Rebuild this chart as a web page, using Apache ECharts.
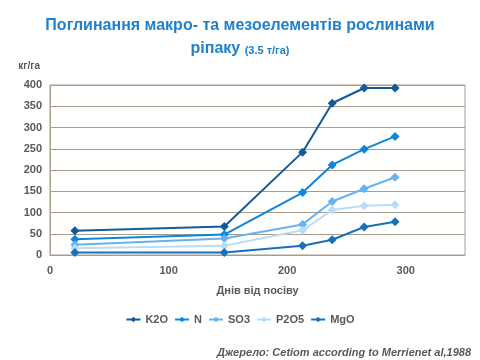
<!DOCTYPE html>
<html><head><meta charset="utf-8">
<script src="https://cdn.jsdelivr.net/npm/echarts@6/dist/echarts.min.js"></script>
<style>html,body{margin:0;padding:0;background:#fff}#c{width:480px;height:360px}</style>
</head><body><div id="c"></div>
<script>
const days = [21, 147, 213, 238, 265, 291];
const k2o = [57, 67, 242, 357, 393, 393];
const n   = [37, 48, 147, 212, 249, 279];
const so3 = [24, 39, 72, 126, 156, 183];
const p2o5 = [16, 22, 58, 106, 116, 118];
const mgo = [6, 6, 22, 36, 66, 78];
const seriesNames = ['K2O', 'N', 'SO3', 'P2O5', 'MgO'];
const seriesData = [k2o, n, so3, p2o5, mgo];
const xTicks = [0, 100, 200, 300];
const colors = ['#145A96', '#0C85DC', '#66B3F0', '#BADCF7', '#1670BC'];
const font = 'Liberation Sans, Arial, sans-serif';
const chart = echarts.init(document.getElementById('c'));
chart.setOption({
  animation: false,
  textStyle: {fontFamily: font},
  title: [{
    text: 'Поглинання макро- та мезоелементів рослинами',
    left: 'center', top: 13,
    textStyle: {fontFamily: font, fontSize: 16, fontWeight: 'bold', color: '#1F80CB'}
  }, {
    text: '{a|ріпаку} {b|(3.5 т/га)}',
    left: 'center', top: 36,
    textStyle: {fontFamily: font, fontSize: 16, fontWeight: 'bold', color: '#1F80CB',
      rich: {a: {fontFamily: font, fontSize: 16, fontWeight: 'bold', color: '#1F80CB'},
             b: {fontFamily: font, fontSize: 11, fontWeight: 'bold', color: '#1F80CB', padding: [3, 0, 0, 0]}}}
  }, {
    text: 'Джерело: Cetiom according to Merrienet al,1988',
    right: 4, top: 342,
    textStyle: {fontFamily: font, fontSize: 11, fontWeight: 'bold', fontStyle: 'italic', color: '#595959'}
  }],
  legend: {
    data: seriesNames, bottom: 30, itemWidth: 14, itemHeight: 7, itemGap: 6,
    textStyle: {fontFamily: font, fontSize: 11, fontWeight: 'bold', color: '#595959'}
  },
  grid: {left: 50, right: 15, top: 85, bottom: 105, show: true, borderColor: '#A89C8F', borderWidth: 1},
  xAxis: {
    type: 'value', min: 0, max: 350, interval: 100,
    name: 'Днів від посіву', nameLocation: 'middle', nameGap: 30,
    nameTextStyle: {fontFamily: font, fontSize: 11, fontWeight: 'bold', color: '#595959'},
    axisLine: {lineStyle: {color: '#A89C8F'}}, axisTick: {show: false},
    splitLine: {show: false},
    axisLabel: {fontFamily: font, fontSize: 11, fontWeight: 'bold', color: '#595959', margin: 10,
      formatter: v => xTicks.includes(v) ? String(v) : ''}
  },
  yAxis: {
    type: 'value', min: 0, max: 400, interval: 50,
    name: 'кг/га', nameLocation: 'end', nameGap: 14,
    nameTextStyle: {fontFamily: font, fontSize: 10, fontWeight: 'bold', color: '#595959', align: 'right', padding: [0, 10, 0, 0]},
    axisLine: {show: true, lineStyle: {color: '#A89C8F'}}, axisTick: {show: false},
    splitLine: {lineStyle: {color: '#A89C8F'}},
    axisLabel: {fontFamily: font, fontSize: 11, fontWeight: 'bold', color: '#595959', margin: 8}
  },
  series: seriesNames.map((nm, i) => ({
    name: nm, type: 'line',
    data: days.map((d, j) => [d, seriesData[i][j]]),
    symbol: 'diamond', symbolSize: 9,
    itemStyle: {color: colors[i]},
    lineStyle: {color: colors[i], width: 2}
  }))
});
</script></body></html>
